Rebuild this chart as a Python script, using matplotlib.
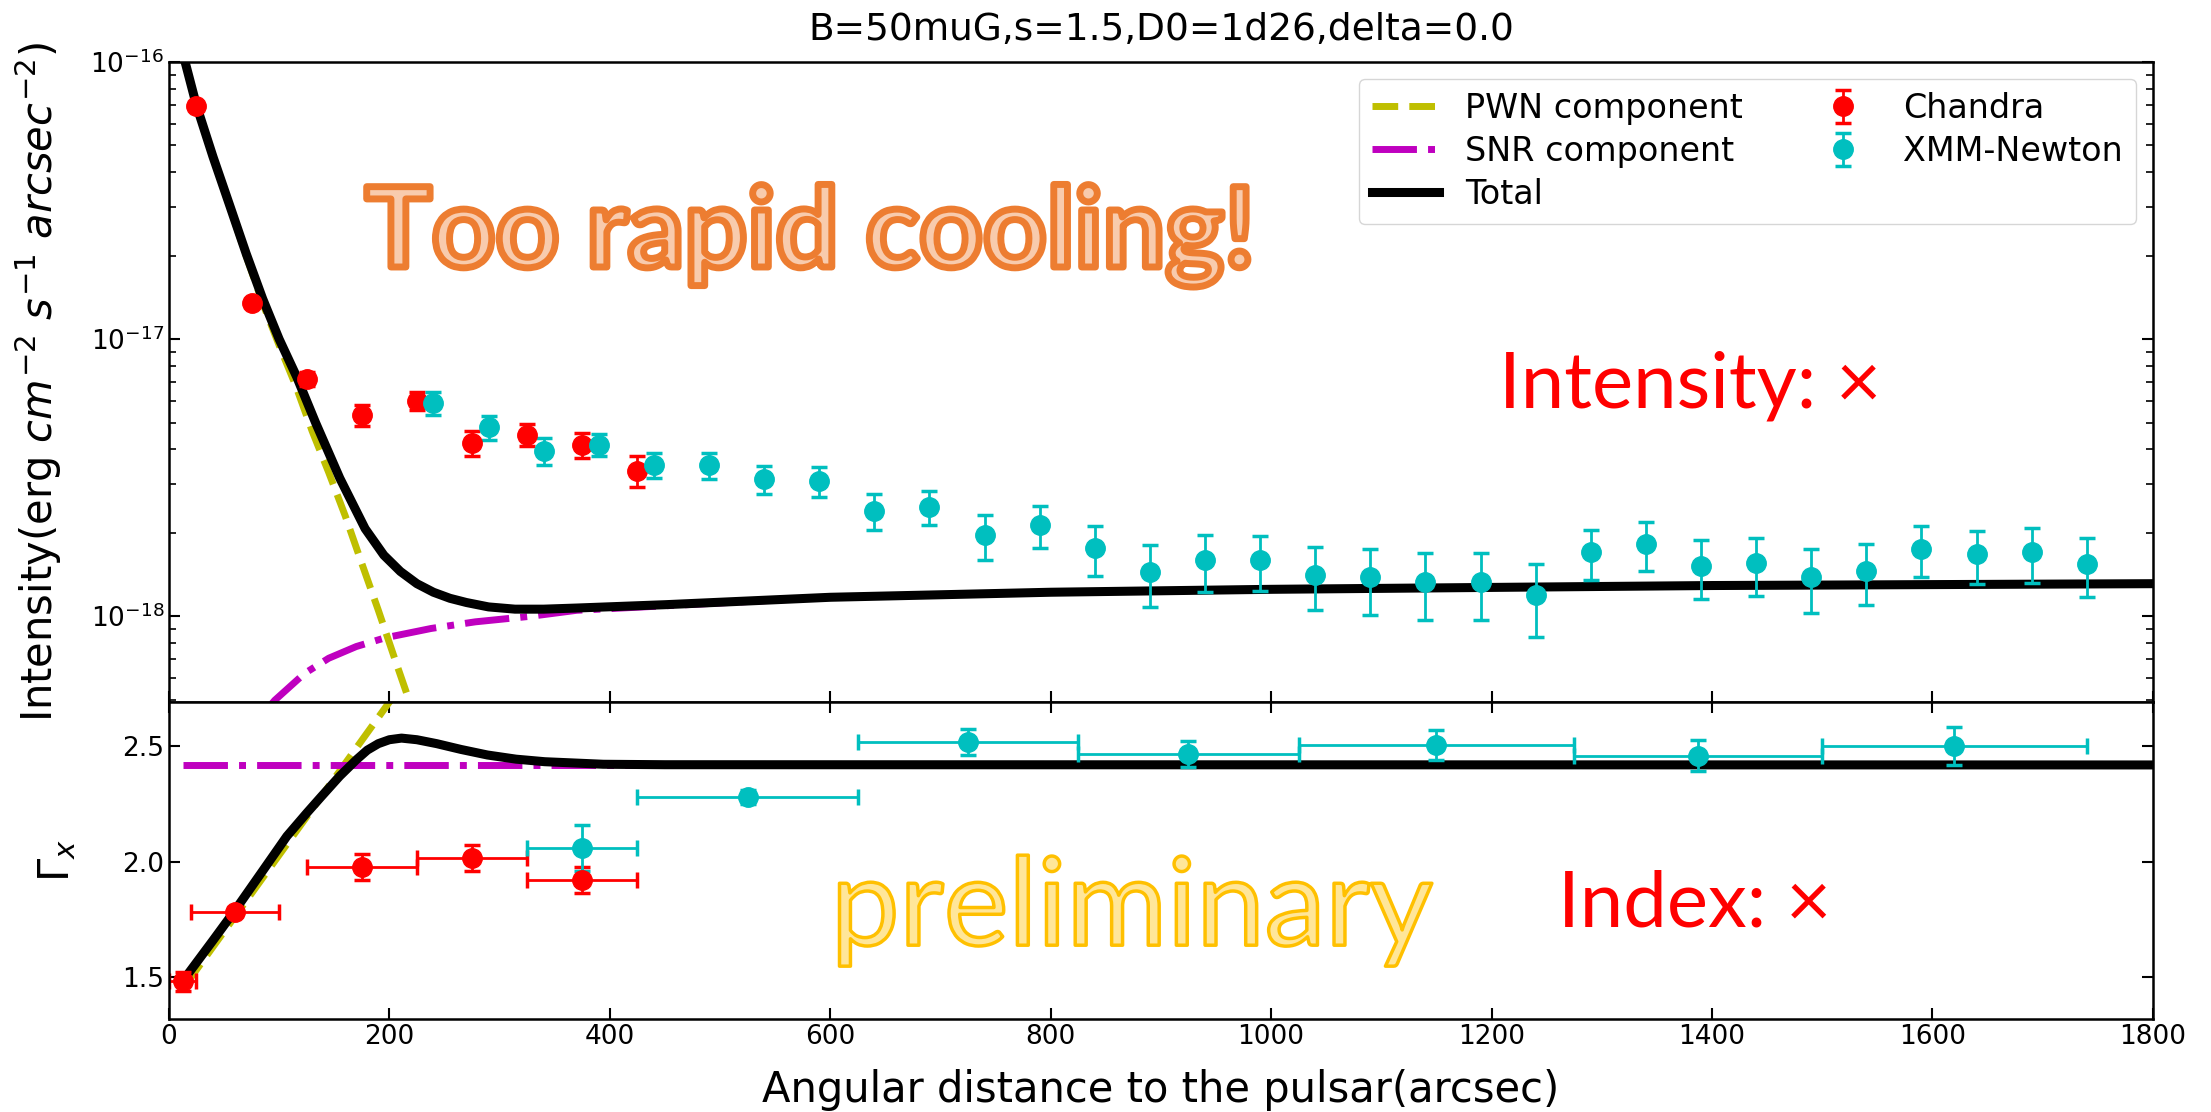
import numpy as np
import matplotlib
matplotlib.use('Agg')
import matplotlib.pyplot as plt
import matplotlib.patheffects as pe

# ---- model curves, intensity (units of 1e-18 erg cm^-2 s^-1 arcsec^-2)
x_tot = [10, 15, 25, 40, 55, 70, 85, 100, 116, 133, 155, 178, 195, 210, 225,
         240, 255, 270, 290, 314, 340, 370, 450, 600, 800, 1000, 1200, 1400,
         1600, 1800]
i_tot = [117, 99, 69.7, 45.5, 30.5, 20.4, 14.0, 10.0, 7.3, 5.0, 3.15, 2.07, 1.66,
         1.45, 1.31, 1.22, 1.16, 1.12, 1.08, 1.06, 1.06, 1.07, 1.10, 1.17, 1.22,
         1.25, 1.27, 1.29, 1.30, 1.31]

x_pwn = [10, 15, 25, 40, 55, 70, 85, 100, 115, 130, 145, 160, 175, 190, 205, 220, 235]
i_pwn = [117, 99, 69.5, 45.3, 30.2, 20.0, 13.5, 9.5, 6.8, 4.65, 3.3, 2.3, 1.55,
         1.05, 0.70, 0.47, 0.32]

x_snr = [50, 70, 96, 123, 145, 170, 196, 238, 278, 329, 370, 450, 600, 800, 1000,
         1200, 1400, 1600, 1800]
i_snr = [0.284, 0.375, 0.497, 0.621, 0.705, 0.777, 0.835, 0.903, 0.954, 1.00,
         1.05, 1.09, 1.17, 1.22, 1.25, 1.27, 1.29, 1.30, 1.31]

# ---- data, intensity
x_ch = [25, 75, 125, 175, 225, 275, 325, 375, 425]
i_ch = [69.6, 13.5, 7.2, 5.33, 5.98, 4.22, 4.52, 4.16, 3.35]
e_ch = [1.5, 0.4, 0.4, 0.47, 0.44, 0.43, 0.40, 0.43, 0.42]

x_xmm = [240, 290, 340, 390, 440, 490, 540, 590, 640, 690, 740, 790, 840, 890,
         940, 990, 1040, 1090, 1140, 1190, 1240, 1290, 1340, 1390, 1440, 1490,
         1540, 1590, 1640, 1690, 1740]
i_xmm = [5.87, 4.80, 3.95, 4.16, 3.51, 3.51, 3.13, 3.07, 2.40, 2.48, 1.96, 2.13,
         1.76, 1.44, 1.59, 1.59, 1.41, 1.38, 1.33, 1.33, 1.19, 1.70, 1.82, 1.52,
         1.55, 1.39, 1.46, 1.75, 1.67, 1.70, 1.54]
e_xmm = [0.55, 0.46, 0.43, 0.37, 0.37, 0.38, 0.36, 0.38, 0.36, 0.34, 0.36, 0.37,
         0.36, 0.36, 0.37, 0.36, 0.36, 0.37, 0.36, 0.36, 0.35, 0.35, 0.36, 0.37,
         0.37, 0.36, 0.36, 0.36, 0.36, 0.38, 0.37]

# ---- photon index
xg_tot = [15, 40, 60, 85, 107, 125, 138, 155, 170, 180, 190, 200, 211, 225, 243,
          265, 289, 315, 341, 394, 450, 1800]
g_tot = [1.50, 1.66, 1.79, 1.96, 2.11, 2.21, 2.28, 2.37, 2.44, 2.482, 2.51, 2.527,
         2.534, 2.527, 2.51, 2.485, 2.461, 2.443, 2.432, 2.421, 2.419, 2.418]
xg_pwn = [15, 60, 110, 160, 210]
g_pwn = [1.467, 1.764, 2.095, 2.425, 2.756]
xg_snr = [13, 1800]
g_snr = [2.418, 2.418]

xg_ch = [12.5, 60, 175, 275, 375]
xe_ch = [12.5, 40, 50, 50, 50]
g_ch = [1.483, 1.784, 1.978, 2.017, 1.922]
ge_ch = [0.04, 0.02, 0.056, 0.056, 0.056]

xg_xmm = [375, 525, 725, 925, 1150, 1387.5, 1620]
xe_xmm = [50, 100, 100, 100, 125, 112.5, 120]
g_xmm = [2.06, 2.28, 2.518, 2.466, 2.504, 2.457, 2.501]
ge_xmm = [0.10, 0.03, 0.057, 0.057, 0.066, 0.067, 0.083]

scale = 1e-18

fig = plt.figure(figsize=(22.11, 11.12), dpi=100)
ax1 = fig.add_axes([0.0764, 0.3687, 0.8973, 0.5755])
ax2 = fig.add_axes([0.0764, 0.0836, 0.8973, 0.2851], sharex=ax1)

lw_model = 5
lw_tot = 6.5
eb_kw = dict(fmt='o', ms=14, elinewidth=2, capsize=6, capthick=2.5)

l_pwn, = ax1.plot(x_pwn, np.array(i_pwn) * scale, 'y--', lw=lw_model, label='PWN component')
l_snr, = ax1.plot(x_snr, np.array(i_snr) * scale, 'm-.', lw=lw_model, label='SNR component')
l_tot, = ax1.plot(x_tot, np.array(i_tot) * scale, 'k-', lw=lw_tot, label='Total')
eb_ch = ax1.errorbar(x_ch, np.array(i_ch) * scale, yerr=np.array(e_ch) * scale,
                     color='r', label='Chandra', **eb_kw)
eb_xmm = ax1.errorbar(x_xmm, np.array(i_xmm) * scale, yerr=np.array(e_xmm) * scale,
                      color='c', label='XMM-Newton', **eb_kw)
ax1.set_yscale('log')
ax1.set_ylim(4.9e-19, 1e-16)
ax1.set_xlim(0, 1800)
ax1.set_title('B=50muG,s=1.5,D0=1d26,delta=0.0', fontsize=27, pad=16)
ax1.set_ylabel(r'Intensity(erg $cm^{-2}$ $s^{-1}$ $arcsec^{-2}$)', fontsize=30)
ax1.yaxis.set_label_coords(-0.053, 0.5)
ax1.legend(handles=[l_pwn, l_snr, l_tot, eb_ch, eb_xmm], loc='upper right',
           ncol=2, fontsize=24, labelspacing=0.3)
ax1.tick_params(axis='both', which='both', direction='in', labelsize=19,
                right=True, top=False, labelbottom=False)
ax1.tick_params(which='major', length=8, width=1.5)
ax1.tick_params(which='minor', length=5, width=1.2)

ax2.plot(xg_pwn, g_pwn, 'y--', lw=lw_model)
ax2.plot(xg_snr, g_snr, 'm-.', lw=lw_model)
ax2.plot(xg_tot, g_tot, 'k-', lw=lw_tot)
ax2.errorbar(xg_ch, g_ch, xerr=xe_ch, yerr=ge_ch, color='r', **eb_kw)
ax2.errorbar(xg_xmm, g_xmm, xerr=xe_xmm, yerr=ge_xmm, color='c', **eb_kw)
ax2.set_ylim(1.32, 2.69)
ax2.set_yticks([1.5, 2.0, 2.5])
ax2.set_xticks(range(0, 1801, 200))
ax2.set_ylabel(r'$\Gamma_x$', fontsize=30)
ax2.yaxis.set_label_coords(-0.046, 0.5)
ax2.set_xlabel('Angular distance to the pulsar(arcsec)', fontsize=30, labelpad=14)
ax2.tick_params(axis='both', which='both', direction='in', labelsize=19,
                right=True, top=True, length=8, width=1.5)

for ax in (ax1, ax2):
    for s in ax.spines.values():
        s.set_linewidth(1.8)

# slide overlays
fig.text(0.1651, 0.7599, 'Too rapid cooling!', family=['Lato', 'DejaVu Sans'],
         fontweight='bold', fontsize=80, color='#F8CBAD', ha='left', va='baseline',
         path_effects=[pe.Stroke(linewidth=5, foreground='#ED7D31')])
fig.text(0.3758, 0.150, 'preliminary', family=['Lato', 'DejaVu Sans'],
         fontsize=88, color='#FFE699', ha='left', va='baseline',
         path_effects=[pe.Stroke(linewidth=2.5, foreground='#FFC000')])
fig.text(0.678, 0.6335, 'Intensity: \u00d7', family=['Lato', 'DejaVu Sans'],
         fontsize=56, color='#FF0000', ha='left', va='baseline')
fig.text(0.7045, 0.1666, 'Index: \u00d7', family=['Lato', 'DejaVu Sans'],
         fontsize=56, color='#FF0000', ha='left', va='baseline')

fig.savefig('out.png', dpi=100)
